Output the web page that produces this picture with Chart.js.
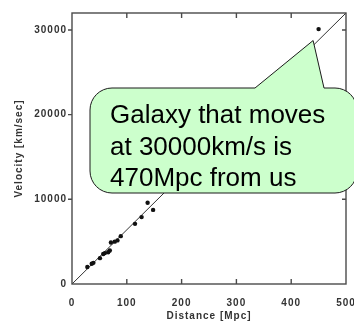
<!DOCTYPE html>
<html>
<head>
<meta charset="utf-8">
<script src="https://cdn.jsdelivr.net/npm/chart.js@4/dist/chart.umd.min.js"></script>
<style>
  html, body { margin: 0; padding: 0; background: #fff; }
  #wrap { width: 354px; height: 322px; }
</style>
</head>
<body>
<div id="wrap"><canvas id="c" width="354" height="322"></canvas></div>
<script>
// Galaxy distances (Mpc) and recession velocities (km/s)
const distances  = [28, 36, 39, 51, 57, 60, 66, 69, 71, 78, 83, 89, 115, 127, 138, 148, 450];
const velocities = [2000, 2400, 2500, 3050, 3550, 3650, 3750, 3950, 4900, 5000, 5150, 5650, 7100, 7900, 9600, 8750, 30100];

// Hubble-law fit line end points
const fitDistance = [0, 500];
const fitVelocity = [0, 32000];

// Axis ticks
const xTicks = [0, 100, 200, 300, 400, 500];
const yTicks = [0, 10000, 20000, 30000];

// Callout text and the point it refers to
const calloutLines = ['Galaxy that moves', 'at 30000km/s is', '470Mpc from us'];
const calloutTarget = { x: 440, y: 28750 };

const points = distances.map((d, i) => ({ x: d, y: velocities[i] }));
const fit = fitDistance.map((d, i) => ({ x: d, y: fitVelocity[i] }));

const frameColor = '#4a4a4a';

// Frame and tick marks: left ticks point outward, others inward
const framePlugin = {
  id: 'frame',
  beforeDraw(chart) {
    chart.ctx.letterSpacing = '1px';
  },
  afterDatasetsDraw(chart) {
    const { ctx, chartArea: a, scales: { x, y } } = chart;
    ctx.save();
    ctx.strokeStyle = frameColor;
    ctx.lineWidth = 1.4;
    ctx.strokeRect(a.left, a.top, a.right - a.left, a.bottom - a.top);
    ctx.beginPath();
    xTicks.slice(1, -1).forEach(v => {
      const px = x.getPixelForValue(v);
      ctx.moveTo(px, a.bottom); ctx.lineTo(px, a.bottom - 5);
      ctx.moveTo(px, a.top); ctx.lineTo(px, a.top + 5);
    });
    yTicks.slice(1).forEach(v => {
      const py = y.getPixelForValue(v);
      ctx.moveTo(a.left, py); ctx.lineTo(a.left - 4, py);
      ctx.moveTo(a.right, py); ctx.lineTo(a.right - 4, py);
    });
    ctx.stroke();
    ctx.restore();
  }
};

// Speech-bubble callout pointing at the most distant galaxy
const calloutPlugin = {
  id: 'callout',
  afterDraw(chart) {
    const { ctx, scales: { x, y } } = chart;
    const tipX = x.getPixelForValue(calloutTarget.x);
    const tipY = y.getPixelForValue(calloutTarget.y);
    const x0 = 90, y0 = 88, x1 = 357, y1 = 193, r = 22;
    const baseL = 255, baseR = 324;
    ctx.save();
    ctx.letterSpacing = '0px';
    ctx.beginPath();
    ctx.moveTo(x0 + r, y0);
    ctx.lineTo(baseL, y0);
    ctx.lineTo(tipX, tipY);
    ctx.lineTo(baseR, y0);
    ctx.arcTo(x1, y0, x1, y1, r);
    ctx.arcTo(x1, y1, x0, y1, r);
    ctx.arcTo(x0, y1, x0, y0, r);
    ctx.arcTo(x0, y0, x1, y0, r);
    ctx.closePath();
    ctx.fillStyle = '#ccffcc';
    ctx.fill();
    ctx.strokeStyle = '#1a1a1a';
    ctx.lineWidth = 1;
    ctx.stroke();
    ctx.fillStyle = '#000';
    ctx.font = '26px "Liberation Sans", Arial, sans-serif';
    ctx.textBaseline = 'alphabetic';
    ctx.textAlign = 'left';
    calloutLines.forEach((t, i) => ctx.fillText(t, 110, 123 + i * 31.5));
    ctx.restore();
  }
};

const tickFont = { family: '"Liberation Sans", Arial, sans-serif', size: 10, weight: 'bold' };

new Chart(document.getElementById('c'), {
  type: 'scatter',
  data: {
    datasets: [
      {
        type: 'line',
        data: fit,
        borderColor: '#333',
        borderWidth: 1,
        pointRadius: 0,
        fill: false,
        order: 2
      },
      {
        data: points,
        backgroundColor: '#111',
        borderWidth: 0,
        pointRadius: 2.2,
        order: 1
      }
    ]
  },
  options: {
    responsive: false,
    animation: false,
    layout: { padding: { top: 13, right: 8, left: 0, bottom: 0 } },
    plugins: { legend: { display: false }, tooltip: { enabled: false } },
    scales: {
      x: {
        type: 'linear',
        min: 0, max: 500,
        afterBuildTicks: s => { s.ticks = xTicks.map(v => ({ value: v })); },
        afterFit: s => { s.height = 38; s.paddingLeft = 0; s.paddingRight = 0; },
        grid: { display: false, drawTicks: false },
        border: { display: false },
        ticks: { color: '#333', font: tickFont, padding: 13, maxRotation: 0, callback: v => String(v) },
        title: { display: true, text: 'Distance [Mpc]', color: '#333', font: tickFont, padding: { top: 0, bottom: 0 } }
      },
      y: {
        type: 'linear',
        min: 0, max: 32000,
        afterBuildTicks: s => { s.ticks = yTicks.map(v => ({ value: v })); },
        afterFit: s => { s.width = 72; s.paddingTop = 0; s.paddingBottom = 0; },
        grid: { display: false, drawTicks: false },
        border: { display: false },
        ticks: { color: '#333', font: tickFont, padding: 5, callback: v => String(v) },
        title: { display: true, text: 'Velocity [km/sec]', color: '#333', font: tickFont, padding: { top: 13, bottom: 0 } }
      }
    }
  },
  plugins: [framePlugin, calloutPlugin]
});
</script>
</body>
</html>
